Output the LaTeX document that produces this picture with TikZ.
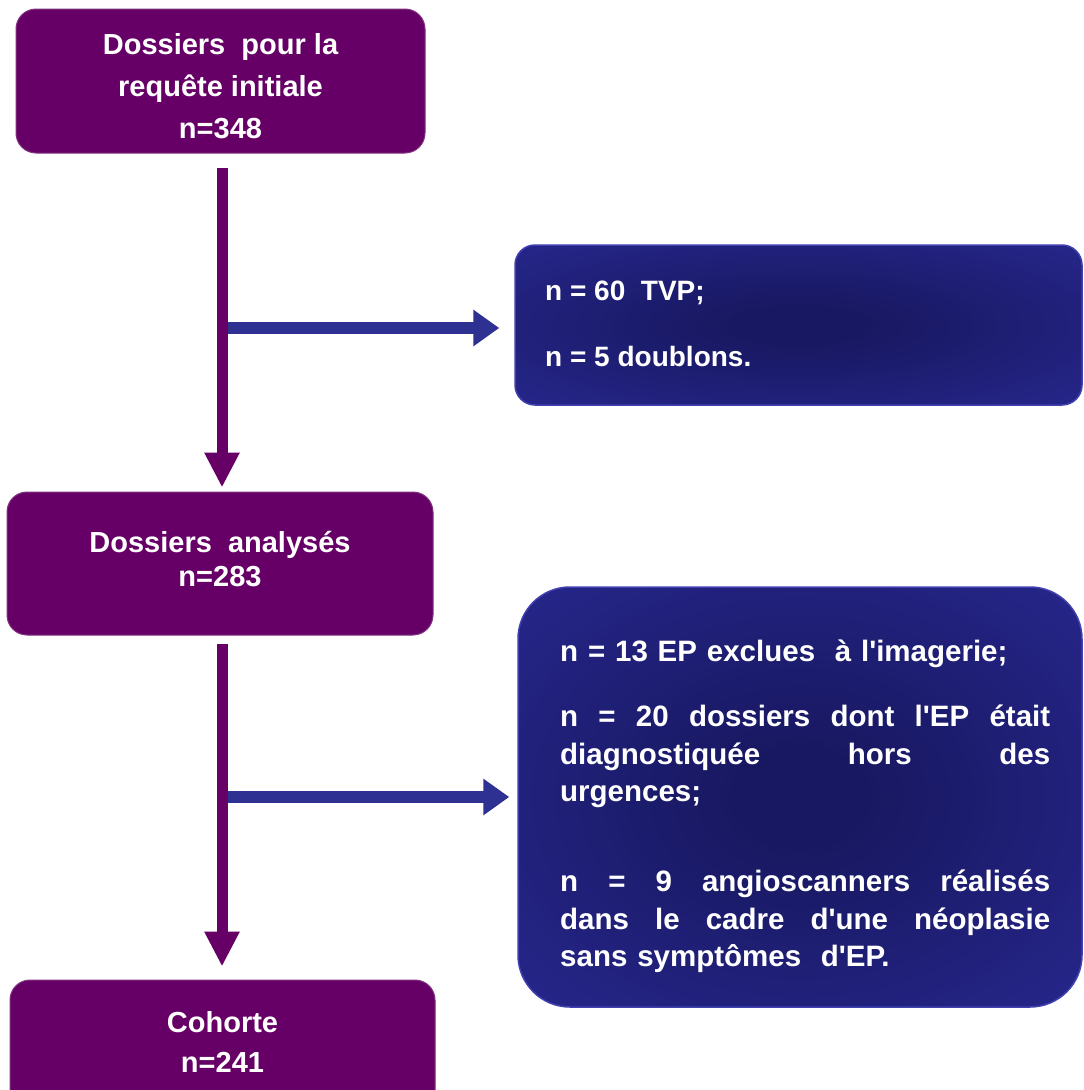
\documentclass[tikz,border=0pt]{standalone}
\usepackage{fontspec}
\setmainfont{Liberation Sans}[Ligatures=TeXOff]
\usetikzlibrary{arrows.meta}
\definecolor{boxpurple}{RGB}{102,0,102}
\definecolor{edgepurple}{RGB}{130,50,130}
\definecolor{arrowblue}{RGB}{46,49,146}
\definecolor{blueIn}{RGB}{24,24,98}
\definecolor{blueOut}{RGB}{44,44,156}
\definecolor{blueEdge}{RGB}{64,64,176}
\pgfdeclareradialshading{bluerad}{\pgfpoint{0bp}{0bp}}{color(0bp)=(blueIn); color(6bp)=(blueIn); color(48bp)=(blueOut); color(75bp)=(blueOut)}
\newcommand\justline[1]{\leavevmode\hbox to 490pt{\spaceskip=0.278em plus 1fil\relax #1}}
\tikzset{
  purplebox/.style={fill=boxpurple, draw=edgepurple, line width=1pt, rounded corners=20pt, inner sep=0pt},
  bluebox/.style={shading=bluerad, draw=blueEdge, line width=1.5pt, inner sep=0pt},
  ptext/.style={text=white, font=\bfseries\fontsize{29}{#1}\selectfont, align=center, anchor=north, inner sep=0pt},
  btext/.style={text=white, inner sep=0pt, align=left},
  downarrow/.style={draw=boxpurple, line width=11pt, -{Triangle[width=33pt,length=35pt]}},
  sidearrow/.style={draw=arrowblue, line width=12pt, -{Triangle[width=35pt,length=26pt]}}
}
\begin{document}
\begin{tikzpicture}[x=1pt,y=-1pt]
\fill[white] (0,0) rectangle (1084,1090);
\useasboundingbox (0,0) rectangle (1084,1090);

% boxes
\node[purplebox, minimum width=409pt, minimum height=144pt] (b1) at (220.5,81) {};
\node[purplebox, minimum width=426pt, minimum height=143pt] (b3) at (220,563.5) {};
\node[purplebox, minimum width=425pt, minimum height=140pt] (b5) at (222.5,1050) {};
\node[bluebox, rounded corners=20pt, minimum width=567pt, minimum height=160pt] (b2) at (798.5,325) {};
\node[bluebox, rounded corners=52pt, minimum width=564pt, minimum height=420pt] (b4) at (800,797) {};

% texts
\node[ptext=42pt] (t1) at (220.5,33.5) {Dossiers~ pour la\\requête initiale\\n=348};
\node[ptext=34pt] (t3) at (220,531.5) {Dossiers~ analysés\\n=283};
\node[ptext=40pt] (t5) at (222.5,1011.5) {Cohorte\\n=241};
\node[btext, anchor=north west, font=\bfseries\fontsize{28}{34}\selectfont] (t2) at (545,281)
  {n = 60~ TVP;\\[32pt]n = 5 doublons.};
\node[btext, anchor=north west, text width=490pt, font=\bfseries\fontsize{29.5}{37.5}\selectfont] (t4) at (560,639.5)
  {n = 13 EP exclues~ à l'imagerie;\\[28pt]
   \justline{n = 20 dossiers dont l'EP était}\\
   \justline{diagnostiquée hors des}\\
   urgences;\\[52.5pt]
   \justline{n = 9 angioscanners réalisés}\\
   \justline{dans le cadre d'une néoplasie}\\
   sans symptômes~ d'EP.};

% junctions
\coordinate (j1) at (222,328);
\coordinate (j2) at (222,797);

% connectors
\draw[sidearrow, shorten >=15pt] (j1) -- (j1 -| b2.west);
\draw[sidearrow, shorten >=8pt] (j2) -- (j2 -| b4.west);
\draw[downarrow, shorten <=14pt, shorten >=4pt] (b1.south -| j1) -- (b3.north -| j1);
\draw[downarrow, shorten <=8pt, shorten >=13pt] (b3.south -| j2) -- (b5.north -| j2);
\end{tikzpicture}
\end{document}
